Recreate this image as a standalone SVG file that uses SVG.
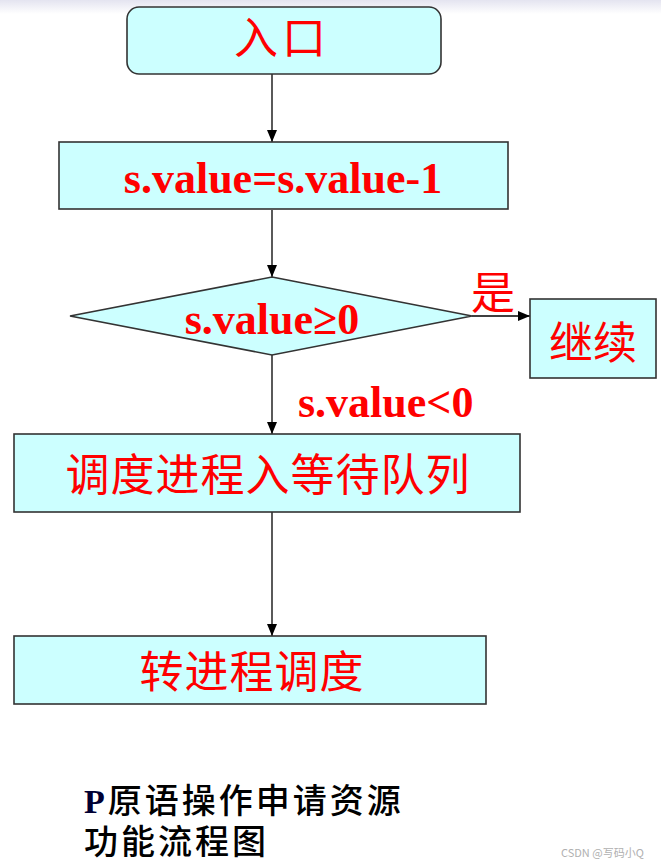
<svg xmlns="http://www.w3.org/2000/svg" width="661" height="866" viewBox="0 0 661 866">
<defs>
<linearGradient id="topband" x1="0" y1="0" x2="0" y2="1">
<stop offset="0" stop-color="#e4e4f0"/>
<stop offset="1" stop-color="#ffffff"/>
</linearGradient>
<marker id="arr" markerWidth="12" markerHeight="10" refX="12" refY="5" orient="auto" markerUnits="userSpaceOnUse">
<path d="M0,0 L12,5 L0,10 Z" fill="#000"/>
</marker>
<style>
.box{fill:#ccffff;stroke:#333;stroke-width:1.6}
.conn{stroke:#000;stroke-width:1.3;fill:none;marker-end:url(#arr)}
.en{font-family:"Liberation Serif","Times New Roman",serif;font-weight:bold;fill:#ff0000;font-size:44px}
.cn{font-family:"Noto Sans CJK SC",sans-serif;fill:#ff0000;font-size:44px}
.cap{font-family:"Noto Sans CJK SC",sans-serif;fill:#000;font-size:34px;font-weight:500}
</style>
</defs>
<rect x="0" y="0" width="661" height="866" fill="#fff"/>
<rect x="0" y="0" width="661" height="14" fill="url(#topband)"/>

<g id="connectors">
<line class="conn" x1="272" y1="74" x2="272" y2="142"/>
<line class="conn" x1="272" y1="210" x2="272" y2="277"/>
<line class="conn" x1="272" y1="355" x2="272" y2="434"/>
<line class="conn" x1="472" y1="316" x2="530" y2="316"/>
<line class="conn" x1="272" y1="512" x2="272" y2="636"/>
<text x="471" y="309" class="cn" font-size="31">是</text>
<text x="298" y="417" class="en">s.value&lt;0</text>
</g>

<g id="entry">
<rect class="box" x="127" y="7" width="314" height="67" rx="12"/>
<text x="282" y="54" class="cn" font-size="33" text-anchor="middle" letter-spacing="4">入口</text>
</g>

<g id="decrement">
<rect class="box" x="59" y="142" width="449" height="67"/>
<text x="283" y="193" class="en" text-anchor="middle">s.value=s.value-1</text>
</g>

<g id="decision">
<polygon class="box" points="272,277 472,316 272,355 70,316"/>
<text x="272" y="334" class="en" text-anchor="middle">s.value≥0</text>
</g>

<g id="continue">
<rect class="box" x="530" y="299" width="126" height="79"/>
<text x="593" y="359" class="cn" text-anchor="middle">继续</text>
</g>

<g id="enqueue">
<rect class="box" x="14" y="434" width="506" height="78"/>
<text x="268" y="491" class="cn" text-anchor="middle" letter-spacing="1">调度进程入等待队列</text>
</g>

<g id="schedule">
<rect class="box" x="14" y="636" width="472" height="68"/>
<text x="252" y="688" class="cn" text-anchor="middle" letter-spacing="1">转进程调度</text>
</g>

<g id="caption">
<text class="cap" letter-spacing="3"><tspan x="84" y="813"><tspan font-family="'Liberation Serif',serif" font-weight="bold" fill="#000033">P</tspan>原语操作申请资源</tspan><tspan x="84" y="854">功能流程图</tspan></text>
</g>
<text x="561" y="857" font-family="'Noto Sans CJK SC',sans-serif" font-size="11" fill="#b0b0b0">CSDN @写码小Q</text>
</svg>
